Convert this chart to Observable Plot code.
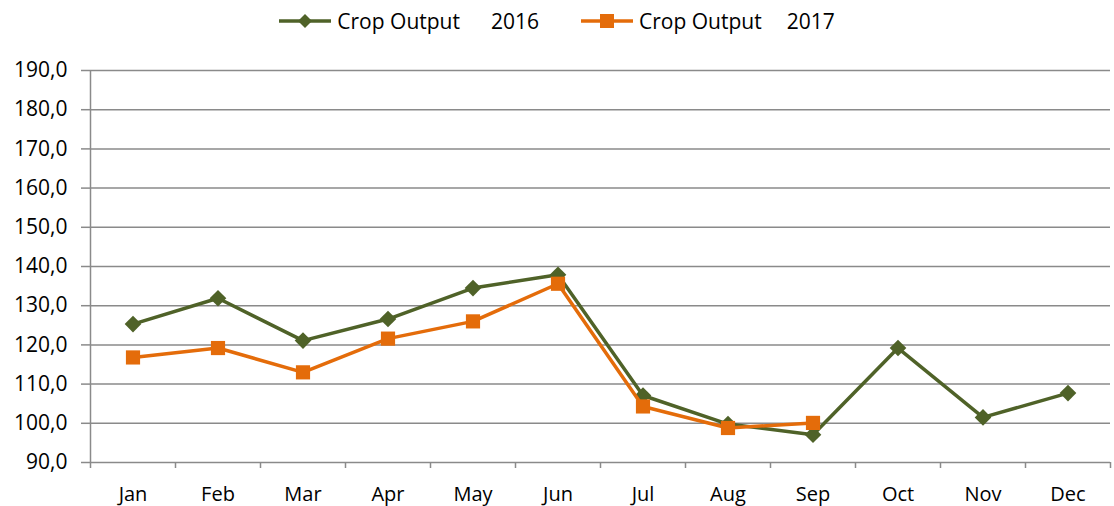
<!DOCTYPE html>
<html><head><meta charset="utf-8">
<script src="https://cdn.jsdelivr.net/npm/d3@7"></script>
<script src="https://cdn.jsdelivr.net/npm/@observablehq/plot@0.6"></script>
<style>
body{margin:0;background:#fff;font-family:"Open Sans",sans-serif;}
#legend{height:40px;padding-top:2px;box-sizing:border-box;display:flex;justify-content:center;align-items:center;font-size:21px;color:#000;}
.item{display:flex;align-items:center;}
.item svg{margin-right:6px;}
</style></head><body>
<div id="legend"></div><div id="chart"></div>
<script>
const months = ["Jan","Feb","Mar","Apr","May","Jun","Jul","Aug","Sep","Oct","Nov","Dec"];
const output2016 = [125.3,131.9,121.1,126.6,134.5,137.9,107.1,99.8,97.1,119.2,101.5,107.7];
const output2017 = [116.8,119.2,113.0,121.6,126.0,135.6,104.3,98.8,100.1,null,null,null];
const seriesLabel = "Crop Output";
const seriesYears = ["2016","2017"];
const seriesColors = ["#4F6228","#E46C0A"];
const seriesSymbols = ["diamond2","square"];
const yTicks = [90,100,110,120,130,140,150,160,170,180,190];

// legend
const legend = document.getElementById("legend");
seriesYears.forEach((yr, k) => {
  const item = document.createElement("div");
  item.className = "item";
  item.style.marginLeft = k ? "42px" : "0";
  const marker = k === 0
    ? `<path d="M26,4 L33,11 L26,18 L19,11 Z" fill="${seriesColors[k]}"/>`
    : `<rect x="19" y="4" width="14" height="14" fill="${seriesColors[k]}"/>`;
  item.innerHTML = `<svg width="52" height="22"><line x1="0" x2="52" y1="11" y2="11" stroke="${seriesColors[k]}" stroke-width="3.5"/>${marker}</svg><span>${seriesLabel}</span><span style="margin-left:${k?25:31}px">${yr}</span>`;
  legend.appendChild(item);
});

const rows = [];
months.forEach((m, i) => {
  rows.push({month: m, i, series: seriesYears[0], value: output2016[i]});
  if (output2017[i] != null) rows.push({month: m, i, series: seriesYears[1], value: output2017[i]});
});
const s16 = rows.filter(d => d.series === seriesYears[0]);
const s17 = rows.filter(d => d.series === seriesYears[1]);
const xBounds = d3.range(months.length + 1);
const xCenters = months.map((m, i) => i + 0.5);
const grid = "#8a8a8a";

const chart = Plot.plot({
  width: 1114, height: 466,
  marginTop: 30, marginBottom: 44, marginLeft: 90, marginRight: 4,
  style: {fontFamily: "Open Sans", fontSize: "21px", color: "#000", background: "#fff"},
  x: {domain: [0, months.length], axis: null},
  y: {domain: [yTicks[0], yTicks[yTicks.length - 1]], axis: null},
  marks: [
    Plot.ruleY(yTicks, {stroke: grid, strokeWidth: 1.5}),
    Plot.ruleX([0], {stroke: grid, strokeWidth: 1.5}),
    Plot.axisY({ticks: yTicks, tickSize: 9, tickPadding: 14, stroke: grid, strokeWidth: 1.5, fill: "#000", label: null,
      tickFormat: d => d.toFixed(1).replace(".", ",")}),
    Plot.axisX({ticks: xBounds, tickSize: 6, stroke: grid, strokeWidth: 1.5, tickFormat: () => "", label: null}),
    Plot.axisX({ticks: xCenters, tickSize: 0, tickPadding: 24, fill: "#000", fontSize: 20, label: null,
      tickFormat: d => months[Math.floor(d)]}),
    Plot.line(s16, {x: d => d.i + 0.5, y: "value", stroke: seriesColors[0], strokeWidth: 3.5}),
    Plot.dot(s16, {x: d => d.i + 0.5, y: "value", symbol: seriesSymbols[0], r: 7.5, fill: seriesColors[0]}),
    Plot.line(s17, {x: d => d.i + 0.5, y: "value", stroke: seriesColors[1], strokeWidth: 3.5}),
    Plot.dot(s17, {x: d => d.i + 0.5, y: "value", symbol: seriesSymbols[1], r: 8, fill: seriesColors[1]})
  ]
});
document.getElementById("chart").appendChild(chart);
</script>
</body></html>
